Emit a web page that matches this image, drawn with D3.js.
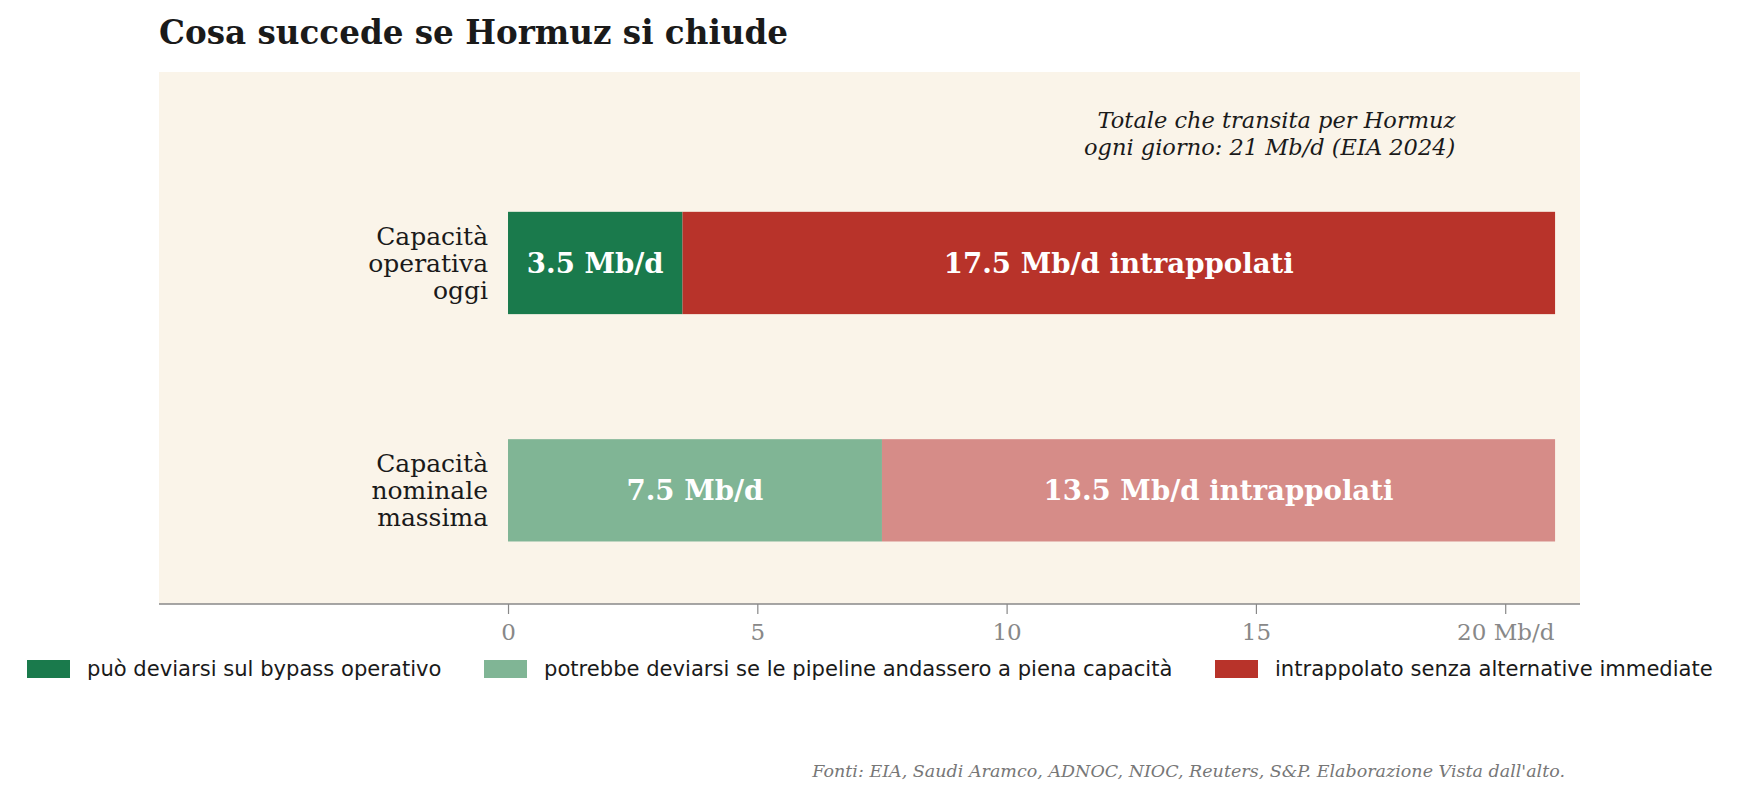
<!DOCTYPE html>
<html lang="it">
<head>
    <meta charset="UTF-8">
    <title>Cosa succede se Hormuz si chiude</title>
    <style>
        body { margin: 0; background: #fff; }
        svg { display: block; }
        .serif { font-family: 'DejaVu Serif', serif; }
        .tick-label { fill: #888; font-size: 23px; }
        .cat-label { fill: #1a1a1a; font-size: 25px; }
        .bar-label { fill: #fff; font-size: 27.6px; font-weight: bold; }
        .legend-text { font-family: 'DejaVu Sans', sans-serif; font-size: 21.1px; fill: #1a1a1a; }
    </style>
</head>
<body>
    <svg id="chart"></svg>

    <script src="https://d3js.org/d3.v7.min.js"></script>
    <script>
        // Data
        var categories = [['Capacità', 'operativa', 'oggi'], ['Capacità', 'nominale', 'massima']];
        var rowPos = [1, 0];
        var divertible = [3.5, 7.5];
        var trapped = [17.5, 13.5];
        var divertLabels = ['3.5 Mb/d', '7.5 Mb/d'];
        var trappedLabels = ['17.5 Mb/d intrappolati', '13.5 Mb/d intrappolati'];
        var divertColors = ['#1a7a4c', '#80b595'];
        var trappedColors = ['#b8332a', '#d68c88'];
        var tickValues = [0, 5, 10, 15, 20];
        var tickLabels = ['0', '5', '10', '15', '20 Mb/d'];
        var legendLabels = ['può deviarsi sul bypass operativo',
            'potrebbe deviarsi se le pipeline andassero a piena capacità',
            'intrappolato senza alternative immediate'];
        var legendColors = ['#1a7a4c', '#80b595', '#b8332a'];

        var width = 1740, height = 799;
        var plot = { left: 159, right: 1580, top: 72, bottom: 604 };

        var svg = d3.select('#chart').attr('width', width).attr('height', height);

        var x = d3.scaleLinear().domain([-7, 21.5]).range([plot.left, plot.right]);
        var y = d3.scaleLinear().domain([-0.5, 1.84]).range([plot.bottom, plot.top]);
        var barH = y(0) - y(0.45);

        // plot background
        svg.append('rect')
            .attr('x', plot.left).attr('y', plot.top)
            .attr('width', plot.right - plot.left)
            .attr('height', plot.bottom - plot.top)
            .attr('fill', '#faf4e9');

        // title
        svg.append('text')
            .attr('class', 'serif')
            .attr('x', plot.left).attr('y', 44)
            .attr('font-size', 32.6).attr('font-weight', 'bold')
            .attr('fill', '#1a1a1a')
            .text('Cosa succede se Hormuz si chiude');

        // bars
        var rows = rowPos.map(function (p, i) {
            return { pos: p, div: divertible[i], trap: trapped[i], i: i };
        });

        var g = svg.append('g');
        g.selectAll('.div-bar').data(rows).enter().append('rect')
            .attr('x', d => x(0))
            .attr('y', d => y(d.pos) - barH / 2)
            .attr('width', d => x(d.div) - x(0))
            .attr('height', barH)
            .attr('fill', d => divertColors[d.i]);

        g.selectAll('.trap-bar').data(rows).enter().append('rect')
            .attr('x', d => x(d.div))
            .attr('y', d => y(d.pos) - barH / 2)
            .attr('width', d => x(d.div + d.trap) - x(d.div))
            .attr('height', barH)
            .attr('fill', d => trappedColors[d.i]);

        g.selectAll('.div-label').data(rows).enter().append('text')
            .attr('class', 'serif bar-label')
            .attr('x', d => x(d.div / 2))
            .attr('y', d => y(d.pos))
            .attr('dy', '0.35em')
            .attr('text-anchor', 'middle')
            .text(d => divertLabels[d.i]);

        g.selectAll('.trap-label').data(rows).enter().append('text')
            .attr('class', 'serif bar-label')
            .attr('x', d => x(d.div + d.trap / 2))
            .attr('y', d => y(d.pos))
            .attr('dy', '0.35em')
            .attr('text-anchor', 'middle')
            .text(d => trappedLabels[d.i]);

        // category labels
        var lineH = 27;
        rows.forEach(function (d) {
            var lines = categories[d.i];
            var t = svg.append('text')
                .attr('class', 'serif cat-label')
                .attr('text-anchor', 'end');
            lines.forEach(function (ln, k) {
                t.append('tspan')
                    .attr('x', x(-0.4))
                    .attr('y', y(d.pos) + (k - (lines.length - 1) / 2) * lineH)
                    .attr('dy', '0.35em')
                    .text(ln);
            });
        });

        // annotation
        var ann = svg.append('text')
            .attr('class', 'serif')
            .attr('font-size', 22.5).attr('font-style', 'italic')
            .attr('fill', '#1a1a1a')
            .attr('text-anchor', 'end');
        ann.append('tspan').attr('x', x(19)).attr('y', 128).text('Totale che transita per Hormuz');
        ann.append('tspan').attr('x', x(19)).attr('y', 155).text('ogni giorno: 21 Mb/d (EIA 2024)');

        // x axis
        var xAxis = d3.axisBottom(x)
            .tickValues(tickValues)
            .tickFormat((d, i) => tickLabels[i])
            .tickSize(10)
            .tickPadding(10);
        var ax = svg.append('g')
            .attr('transform', 'translate(0,' + plot.bottom + ')')
            .call(xAxis);
        ax.select('.domain').remove();
        ax.append('line')
            .attr('x1', plot.left).attr('x2', plot.right)
            .attr('stroke', '#888').attr('stroke-width', 1.6);
        ax.selectAll('.tick line').attr('stroke', '#888').attr('stroke-width', 1.2);
        ax.selectAll('.tick text').attr('class', 'serif tick-label').attr('fill', '#888');

        // legend
        var legendX = [27, 484, 1215];
        var legend = svg.append('g').attr('transform', 'translate(0,669)');
        var item = legend.selectAll('.legend-item').data(legendLabels).enter().append('g')
            .attr('transform', (d, i) => 'translate(' + legendX[i] + ',0)');
        item.append('rect')
            .attr('x', 0).attr('y', -9)
            .attr('width', 43).attr('height', 18)
            .attr('fill', (d, i) => legendColors[i]);
        item.append('text')
            .attr('class', 'legend-text')
            .attr('x', 60).attr('dy', '0.35em')
            .text(d => d);

        // footer
        svg.append('text')
            .attr('class', 'serif')
            .attr('x', 1565).attr('y', 777)
            .attr('text-anchor', 'end')
            .attr('font-size', 17.5).attr('font-style', 'italic')
            .attr('fill', '#777')
            .text("Fonti: EIA, Saudi Aramco, ADNOC, NIOC, Reuters, S&P. Elaborazione Vista dall'alto.");
    </script>
</body>
</html>
